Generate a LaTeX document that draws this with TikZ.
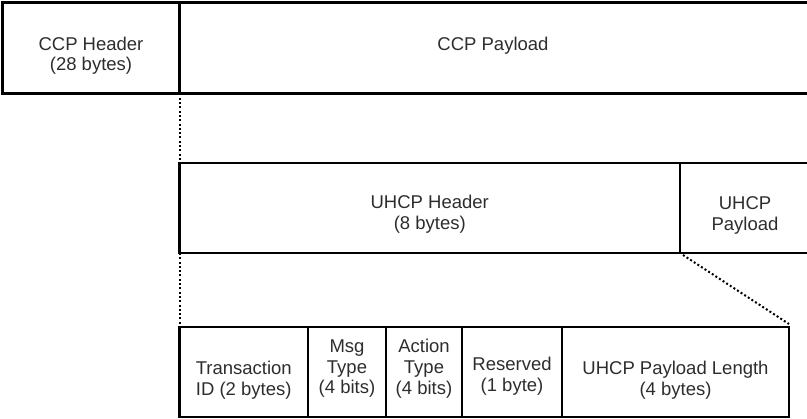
\documentclass[tikz,border=0pt]{standalone}
\usepackage{fontspec}
\setmainfont{Liberation Sans}
\begin{document}
\begin{tikzpicture}[x=1pt, y=-1pt,
  cell/.style={draw=black, line width=2.6pt, rectangle, inner sep=0pt,
               outer sep=0pt, anchor=north west},
  lbl/.style={text={rgb,255:red,45;green,45;blue,45}, align=center,
              inner sep=0pt, outer sep=0pt,
              font=\fontsize{18.5pt}{20.7pt}\selectfont},
  zoomline/.style={line width=2pt, dash pattern=on 2pt off 2.3pt}]
  \clip (0,0) rectangle (807,419);

  % CCP frame
  \node[cell, minimum width=177pt, minimum height=91pt] (ccph) at (2.5,2.5) {};
  \node[cell, minimum width=630.5pt, minimum height=91pt] (ccpp) at (179.5,2.5) {};

  % UHCP message carried in the CCP payload
  \node[cell, minimum width=500.5pt, minimum height=90pt] (uhdr) at (179.5,163) {};
  \node[cell, minimum width=130pt, minimum height=90pt] (upl) at (680,163) {};

  % UHCP header fields
  \node[cell, minimum width=128.5pt, minimum height=90pt] (tid) at (179.5,327) {};
  \node[cell, minimum width=78pt, minimum height=90pt] (msg) at (308,327) {};
  \node[cell, minimum width=76pt, minimum height=90pt] (act) at (386,327) {};
  \node[cell, minimum width=100pt, minimum height=90pt] (rsv) at (462,327) {};
  \node[cell, minimum width=227pt, minimum height=90pt] (plen) at (562,327) {};

  % labels
  \node[lbl] (tccph) at ([yshift=-7.7pt]ccph.center) {CCP Header\\(28 bytes)};
  \node[lbl] (tccpp) at (493,45.3) {CCP Payload};
  \node[lbl] (tuhdr) at ([yshift=-6.5pt]uhdr.center) {UHCP Header\\(8 bytes)};
  \node[lbl] (tupl) at (745,215.3) {UHCP\\Payload};
  \node[lbl] (ttid) at ([yshift=-8pt]tid.center) {Transaction\\ID (2 bytes)};
  \node[lbl] (tmsg) at ([yshift=3.4pt]msg.center) {Msg\\Type\\(4 bits)};
  \node[lbl] (tact) at ([yshift=3.4pt]act.center) {Action\\Type\\(4 bits)};
  \node[lbl] (trsv) at ([yshift=-4.5pt]rsv.center) {Reserved\\(1 byte)};
  \node[lbl] (tplen) at ([yshift=-8pt]plen.center) {UHCP Payload Length\\(4 bytes)};

  % dotted expansion lines
  \draw[zoomline] (ccph.south east) -- (uhdr.north west);
  \draw[zoomline] (uhdr.south west) -- (tid.north west);
  \draw[zoomline] ([xshift=3pt,yshift=-2pt]upl.south west) -- ([yshift=3pt]plen.north east);
\end{tikzpicture}
\end{document}
